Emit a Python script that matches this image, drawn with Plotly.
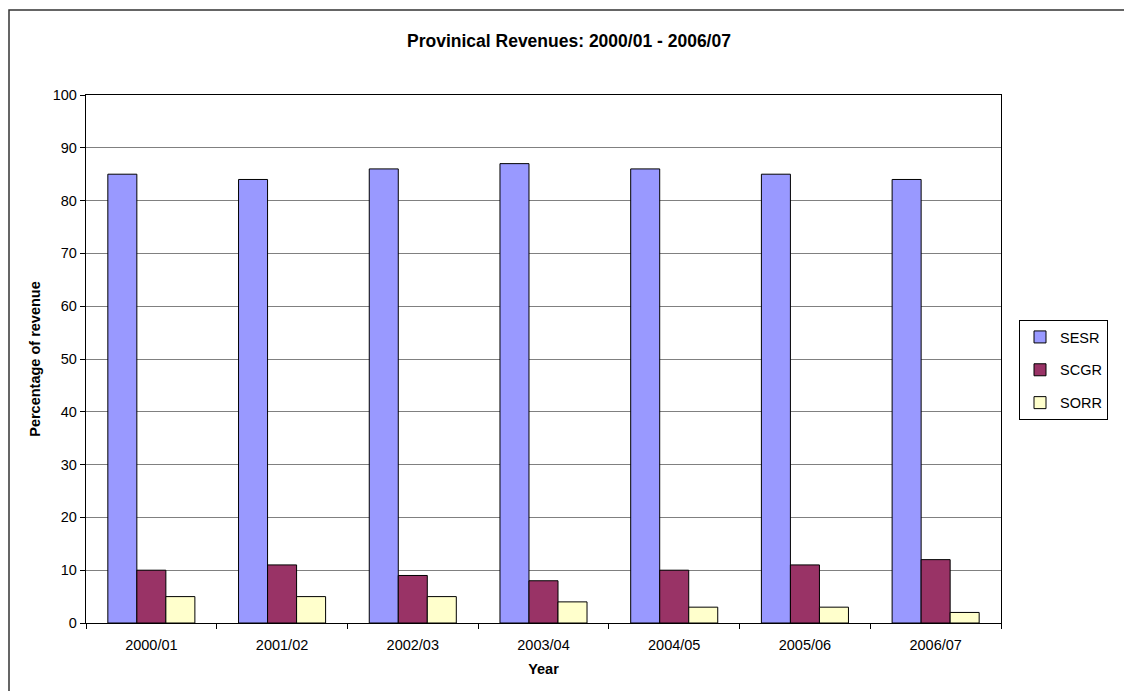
import plotly.graph_objects as go

years = ["2000/01", "2001/02", "2002/03", "2003/04", "2004/05", "2005/06", "2006/07"]
sesr = [85, 84, 86, 87, 86, 85, 84]
scgr = [10, 11, 9, 8, 10, 11, 12]
sorr = [5, 5, 5, 4, 3, 3, 2]

series = [("SESR", sesr, "#9999FF"), ("SCGR", scgr, "#993366"), ("SORR", sorr, "#FFFFCC")]

W, H = 1124, 691
FONT = "Liberation Sans, Arial, sans-serif"
FS = 14.5

fig = go.Figure()
for i, (name, vals, col) in enumerate(series):
    fig.add_trace(go.Bar(
        x=years, y=vals, name=name, legendgroup=name,
        marker=dict(color=col, line=dict(color="#000000", width=1)),
    ))

def px_x(p):
    return p / W

def px_y(p):
    return 1 - p / H

fig.update_layout(
    template="none",
    width=W, height=H,
    margin=dict(l=0, r=0, t=0, b=0, autoexpand=False),
    paper_bgcolor="white", plot_bgcolor="white",
    barmode="group", bargap=0.334, bargroupgap=0,
    font=dict(family=FONT, size=FS, color="#000000"),
    showlegend=True,
    legend=dict(
        x=px_x(1019), y=px_y(320), xanchor="left", yanchor="top",
        bordercolor="#000000", borderwidth=1, bgcolor="white",
        font=dict(family=FONT, size=FS, color="#000000"),
        traceorder="grouped", tracegroupgap=11,
        entrywidth=62,
    ),
    xaxis=dict(
        domain=[px_x(86), px_x(1001)],
        automargin=False,
        showline=True, linecolor="#000000", linewidth=1.3, mirror=True,
        ticks="outside", tickson="boundaries", ticklen=5, tickcolor="#000000",
        ticklabelstandoff=8,
        showgrid=False, zeroline=False,
        title=dict(text="<b>Year</b>", font=dict(family=FONT, size=FS), standoff=11.5),
        tickfont=dict(family=FONT, size=FS),
    ),
    yaxis=dict(
        domain=[px_y(623), px_y(95)],
        automargin=False,
        range=[0, 100], dtick=10,
        showline=True, linecolor="#000000", linewidth=1.3, mirror=True,
        ticks="outside", ticklen=5, tickcolor="#000000",
        showgrid=True, gridcolor="#808080", gridwidth=1,
        zeroline=False,
        title=dict(text="<b>Percentage of revenue</b>", font=dict(family=FONT, size=FS), standoff=8),
        tickfont=dict(family=FONT, size=FS),
    ),
    annotations=[dict(
        text="<b>Provinical Revenues: 2000/01 - 2006/07</b>",
        x=px_x(569), y=px_y(41), xref="paper", yref="paper",
        xanchor="center", yanchor="middle", showarrow=False,
        font=dict(family=FONT, size=17.5, color="#000000"),
    )],
    shapes=[dict(
        type="rect", xref="paper", yref="paper",
        x0=px_x(9), x1=1.02, y0=-0.02, y1=px_y(10),
        line=dict(color="#333333", width=1.5), fillcolor="rgba(0,0,0,0)", layer="below",
    )],
)

fig.write_html("out.html")
